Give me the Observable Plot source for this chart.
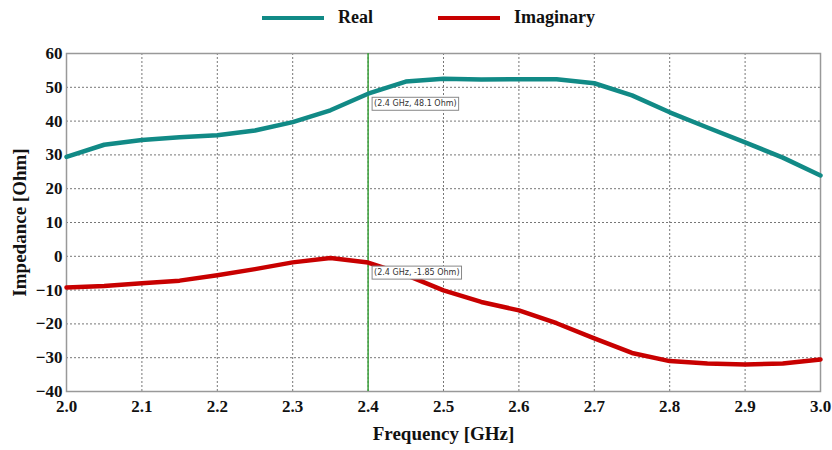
<!DOCTYPE html>
<html><head><meta charset="utf-8">
<script src="https://cdn.jsdelivr.net/npm/d3@7"></script>
<script src="https://cdn.jsdelivr.net/npm/@observablehq/plot@0.6"></script>
<style>
body{margin:0;background:#fff;}
#legend{height:36px;display:flex;align-items:center;font-family:"Liberation Serif",serif;font-weight:bold;font-size:18px;color:#111;}
.item{display:flex;align-items:center;position:absolute;top:7px;}
.sw{width:62px;height:4px;margin-right:14px;}
</style></head>
<body>
<div id="legend">
  <div class="item" style="left:262px"><div class="sw" style="background:#118a86"></div>Real</div>
  <div class="item" style="left:438px"><div class="sw" style="background:#c80000"></div>Imaginary</div>
</div>
<div id="chart"></div>
<script>
const freqs = [2.0,2.05,2.1,2.15,2.2,2.25,2.3,2.35,2.4,2.45,2.5,2.55,2.6,2.65,2.7,2.75,2.8,2.85,2.9,2.95,3.0];
const realVals = [29.4,33.0,34.4,35.2,35.8,37.2,39.7,43.2,48.1,51.7,52.5,52.3,52.4,52.4,51.2,47.6,42.6,38.1,33.7,29.2,23.9];
const imagVals = [-9.2,-8.8,-8.0,-7.2,-5.6,-3.8,-1.8,-0.5,-1.85,-5.5,-10.1,-13.5,-16.0,-19.8,-24.3,-28.6,-31.0,-31.7,-32.0,-31.7,-30.5];
const xTicks = [2.0,2.1,2.2,2.3,2.4,2.5,2.6,2.7,2.8,2.9,3.0];
const yTicks = [-40,-30,-20,-10,0,10,20,30,40,50,60];
const markerFreq = 2.4;
const annotations = [
  {x: 2.4, y: 48.1, label: "(2.4 GHz, 48.1 Ohm)"},
  {x: 2.4, y: -1.85, label: "(2.4 GHz, -1.85 Ohm)"}
];
const real = freqs.map((f,i)=>({f, v: realVals[i]}));
const imag = freqs.map((f,i)=>({f, v: imagVals[i]}));

const chart = Plot.plot({
  width: 832, height: 414,
  marginTop: 17, marginBottom: 59, marginLeft: 66, marginRight: 12,
  style: {fontFamily: "Liberation Serif, serif", fontSize: "17px", fontWeight: "bold", color: "#111", background: "#fff"},
  x: {domain: [2,3], ticks: xTicks, tickFormat: d=>d.toFixed(1), tickSize: 0, tickPadding: 8, label: "Frequency [GHz]", labelArrow: "none", labelAnchor: "center", labelOffset: 48},
  y: {domain: [-40,60], ticks: yTicks, tickSize: 0, tickPadding: 4, label: "Impedance [Ohm]", labelArrow: "none", labelAnchor: "center", labelOffset: 54},
  marks: [
    Plot.ruleX(xTicks.slice(1,-1), {stroke: "#777", strokeDasharray: "2,2", strokeWidth: 1}),
    Plot.ruleY(yTicks.slice(1,-1), {stroke: "#777", strokeDasharray: "2,2", strokeWidth: 1}),
    Plot.frame({stroke: "#999", strokeWidth: 1.5}),
    Plot.ruleX([markerFreq], {stroke: "#3aa03a", strokeWidth: 1.5}),
    Plot.line(real, {x: "f", y: "v", stroke: "#118a86", strokeWidth: 4.5}),
    Plot.line(imag, {x: "f", y: "v", stroke: "#c80000", strokeWidth: 4.5}),
    Plot.text(annotations, {x: "x", y: "y", text: "label", dx: 6, dy: 10, textAnchor: "start", fontFamily: "DejaVu Sans, sans-serif", fontSize: 8, fontWeight: "normal", fill: "#333", className: "annot"})
  ]
});
document.getElementById("chart").appendChild(chart);

// boxes behind annotation labels
const svg = d3.select(chart);
svg.selectAll(".annot text, g.annot text").each(function(){
  const b = this.getBBox();
  const t = this.getAttribute("transform");
  const r = document.createElementNS("http://www.w3.org/2000/svg","rect");
  r.setAttribute("x", b.x-2); r.setAttribute("y", b.y-2);
  r.setAttribute("width", b.width+4); r.setAttribute("height", b.height+4);
  r.setAttribute("fill", "#fff"); r.setAttribute("stroke", "#888"); r.setAttribute("stroke-width", "1");
  if (t) r.setAttribute("transform", t);
  this.parentNode.insertBefore(r, this);
});
// larger axis titles
svg.selectAll("g[aria-label='x-axis label'] text, g[aria-label='y-axis label'] text").style("font-size","19px");
</script>
</body></html>
